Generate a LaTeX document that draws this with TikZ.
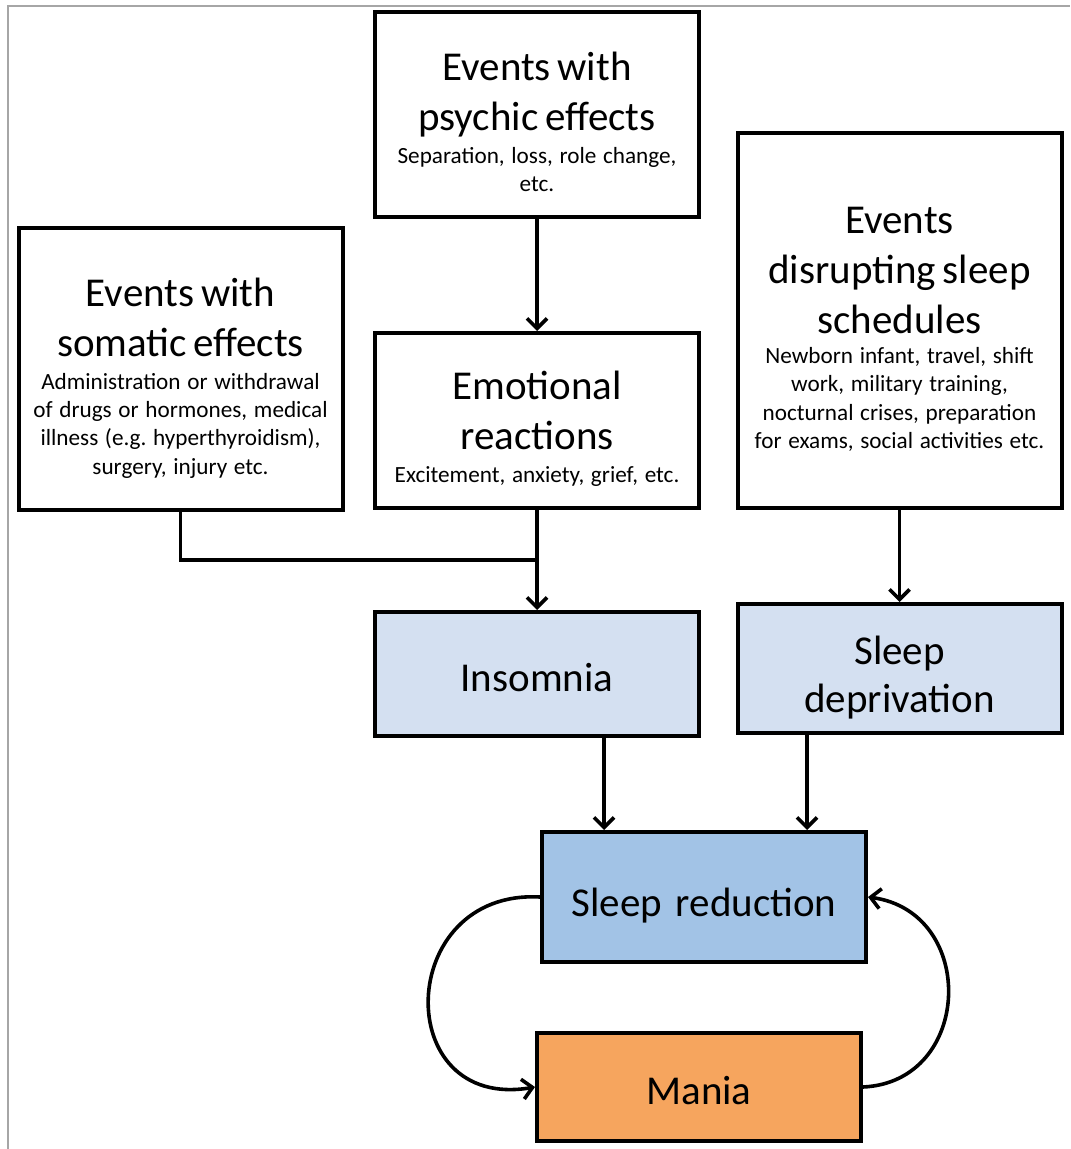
\documentclass[tikz,border=0pt]{standalone}
\usepackage{fontspec}
\setmainfont{Carlito}
\usepackage{tikz}
\usetikzlibrary{arrows.meta,calc,positioning}
\definecolor{lightblue}{HTML}{D4E0F1}
\definecolor{midblue}{HTML}{A2C3E6}
\definecolor{maniaorange}{HTML}{F6A55E}
\newcommand{\bigtxt}{\fontsize{20.5}{25}\selectfont}
\newcommand{\smalltxt}{\fontsize{11.6}{14.2}\selectfont}
\newcommand{\topstrut}[1]{\rule{0pt}{#1}}
\frenchspacing

\begin{document}
\begin{tikzpicture}[x=0.5pt,y=-0.5pt,
  box/.style={draw,line width=2pt,rectangle,minimum width=162pt,text width=156pt,align=center,inner sep=0pt},
  line/.style={line width=1.8pt},
  arrow/.style={line width=1.8pt,-{Straight Barb[length=5pt,width=10pt]}}]
  \useasboundingbox (0,0) rectangle (1070,1149);
  \draw[gray!70,line width=0.8pt] (8,1149) -- (8,6) -- (1070,6);

  \node[box,minimum height=102.5pt] (psychic) at (537,114.5)
    {{\bigtxt\topstrut{21.5pt}Events with\\psychic effects\par}\vspace{2.5pt}{\smalltxt Separation, loss, role change,\\etc.\par}};
  \node[box,minimum height=141pt] (somatic) at (180.5,369)
    {{\bigtxt\topstrut{23.5pt}Events with\\somatic effects\par}\vspace{2pt}{\smalltxt Administration or withdrawal\\of drugs or hormones, medical\\illness (e.g. hyperthyroidism),\\surgery, injury etc.\par}};
  \node[box,minimum height=87.5pt] (emot) at (537,420.5)
    {{\bigtxt\topstrut{22.5pt}Emotional\\reactions\par}\vspace{2.5pt}{\smalltxt Excitement, anxiety, grief, etc.\par}};
  \node[box,minimum height=187.5pt] (disrupt) at (899.5,320.5)
    {{\bigtxt\topstrut{22.2pt}Events\\disrupting sleep\\schedules\par}\vspace{0.5pt}{\smalltxt Newborn infant, travel, shift\\work, military training,\\nocturnal crises, preparation\\for exams, social activities etc.\par}};
  \node[box,fill=lightblue,minimum height=62pt,font=\bigtxt] (insom) at (537,674) {\topstrut{17.7pt}Insomnia};
  \node[box,fill=lightblue,minimum height=64.5pt,font=\fontsize{20.5}{24}\selectfont] (depriv) at (899.5,668.5) {\topstrut{23pt}Sleep\\deprivation};
  \node[box,fill=midblue,minimum height=65pt,font=\bigtxt] (sred) at (704,897) {\topstrut{23pt}Sleep reduction};
  \node[box,fill=maniaorange,minimum height=54pt,font=\bigtxt] (mania) at (699,1087) {\topstrut{17.7pt}Mania};

  \coordinate (join) at (537,560);
  \draw[arrow] (psychic) -- (emot);
  \draw[line] (somatic.south) |- (join);
  \draw[arrow] (emot) -- (insom);
  \draw[arrow] (disrupt) -- (depriv);
  \draw[arrow] ([xshift=33.5pt]insom.south) -- ([xshift=33.5pt]insom.south |- sred.north);
  \draw[arrow] ([xshift=-46.25pt]depriv.south) -- ([xshift=-46.25pt]depriv.south |- sred.north);
  \draw[arrow] (sred.west) .. controls +(-145,-8) and +(-145,25) .. (mania.west);
  \draw[arrow] (mania.east) .. controls +(110,-5) and +(110,15) .. (sred.east);
\end{tikzpicture}
\end{document}
